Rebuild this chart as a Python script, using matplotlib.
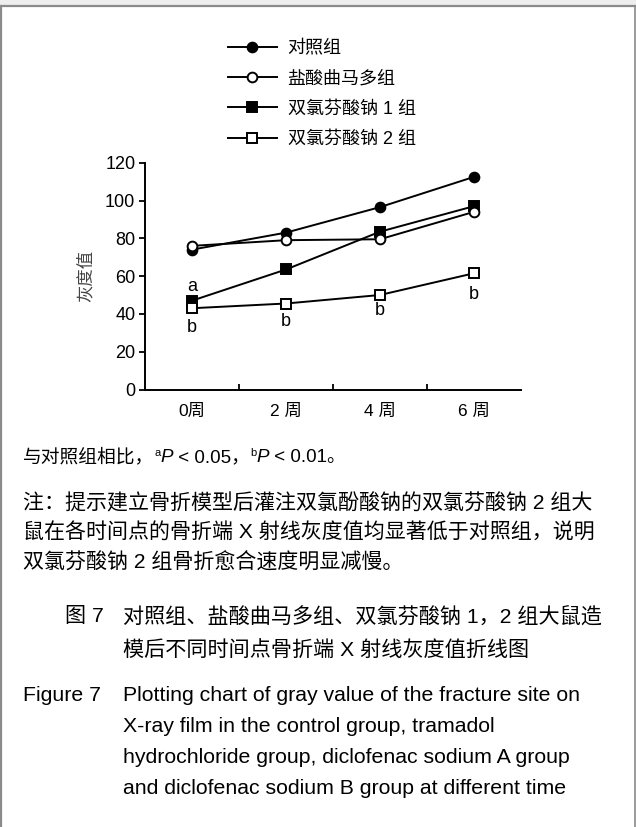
import matplotlib
matplotlib.use('Agg')
import matplotlib.pyplot as plt
from matplotlib.lines import Line2D
from matplotlib.patches import Rectangle

W, H = 636, 827

weeks = ['0周', '2 周', '4 周', '6 周']
control = [74, 83, 96.5, 112.5]
tramadol = [76, 79, 79.5, 94]
diclofenac_1 = [47, 63.5, 83.5, 97]
diclofenac_2 = [43, 45.5, 50, 61.5]
group_names = ['对照组', '盐酸曲马多组', '双氯芬酸钠 1 组', '双氯芬酸钠 2 组']
y_ticks = [0, 20, 40, 60, 80, 100, 120]

# significance letters: (week index, y, letter)
sig_x = [0, 0, 1, 2, 3]
sig_y = [54.5, 33, 36, 42, 50.5]
sig_letters = ['a', 'b', 'b', 'b', 'b']

note_lines = [
    '注：提示建立骨折模型后灌注双氯酚酸钠的双氯芬酸钠 2 组大',
    '鼠在各时间点的骨折端 X 射线灰度值均显著低于对照组，说明',
    '双氯芬酸钠 2 组骨折愈合速度明显减慢。',
]
caption_cn = [
    '对照组、盐酸曲马多组、双氯芬酸钠 1，2 组大鼠造',
    '模后不同时间点骨折端 X 射线灰度值折线图',
]
caption_en = [
    'Plotting chart of gray value of the fracture site on',
    'X-ray film in the control group, tramadol',
    'hydrochloride group, diclofenac sodium A group',
    'and diclofenac sodium B group at different time',
]

plt.rcParams['font.family'] = ['Liberation Sans', 'Noto Sans CJK SC']


def fx(x):
    return x / W


def fy(y):
    return 1 - y / H


fig = plt.figure(figsize=(W / 100, H / 100), dpi=100)
ax = fig.add_axes([fx(145), fy(389.5), (521 - 145) / W, (389.5 - 162.7) / H])

series = [control, tramadol, diclofenac_1, diclofenac_2]
markers = ['o', 'o', 's', 's']
faces = ['black', 'white', 'black', 'white']
handles = []
for vals, name, mk, fc in zip(series, group_names, markers, faces):
    ms = 7 if mk == 'o' else 6.5
    z = 3 if fc == 'white' else 2
    h, = ax.plot(range(len(weeks)), vals, color='black', lw=1.4, marker=mk,
                 ms=ms, mfc=fc, mec='black', mew=1.4, label=name,
                 clip_on=False, zorder=z)
    handles.append(h)

for x, y, s in zip(sig_x, sig_y, sig_letters):
    ax.text(x, y, s, ha='center', va='center', fontsize=13)

ax.set_xlim(-0.5, 3.5)
ax.set_ylim(0, 120)
ax.set_yticks(y_ticks)
ax.set_xticks(range(len(weeks)))
ax.set_xticklabels(weeks)
ax.set_xticks([0.5, 1.5, 2.5], minor=True)
ax.tick_params(axis='x', which='major', length=0, pad=10, labelsize=12.5)
ax.tick_params(axis='x', which='minor', direction='in', length=4, width=1.3)
ax.tick_params(axis='y', direction='out', length=4, width=1.3, pad=3, labelsize=13)
for s in ['top', 'right']:
    ax.spines[s].set_visible(False)
for s in ['left', 'bottom']:
    ax.spines[s].set_linewidth(1.4)
ax.set_ylabel('灰度值', fontsize=12.5, family=['Noto Sans CJK SC'], color='#444444')
ax.yaxis.set_label_coords(-0.135, 0.5)

fig.legend(handles=handles, loc='upper left', bbox_to_anchor=(fx(228), fy(40)),
           frameon=False, fontsize=13, handlelength=2.7, handletextpad=0.6,
           labelspacing=0.74, borderpad=0, borderaxespad=0)

# frame around the page
gray = '#8a8a8a'
fig.add_artist(Rectangle((0, fy(5)), 1, 5 / H, transform=fig.transFigure,
                         color='#eeeeee', lw=0))
fig.add_artist(Line2D([fx(1), fx(635)], [fy(6), fy(6)], color=gray, lw=1.6))
fig.add_artist(Line2D([fx(1), fx(1)], [fy(6), 0], color=gray, lw=1.6))
fig.add_artist(Line2D([fx(635), fx(635)], [fy(6), 0], color=gray, lw=1.2))

# p-value line built from runs
renderer = fig.canvas.get_renderer()
runs = [
    ('与对照组相比，', 13.5, 'normal', 0),
    ('a', 8, 'normal', 6),
    ('P', 13.5, 'italic', 0),
    (' < 0.05，', 13.5, 'normal', 0),
    ('b', 8, 'normal', 6),
    ('P', 13.5, 'italic', 0),
    (' < 0.01。', 13.5, 'normal', 0),
]
x = 23
base = 462
for text, size, style, dy in runs:
    t = fig.text(fx(x), fy(base - dy), text, fontsize=size, style=style,
                 va='baseline', ha='left')
    x += t.get_window_extent(renderer).width

for i, line in enumerate(note_lines):
    fig.text(fx(23), fy(503 + 30 * i), line, fontsize=15.1, va='center')

fig.text(fx(65), fy(617), '图 7', fontsize=15.2, va='center')
for i, line in enumerate(caption_cn):
    fig.text(fx(123), fy(617 + 33 * i), line, fontsize=15.2, va='center')

fig.text(fx(23), fy(701), 'Figure 7', fontsize=15.3, va='baseline')
for i, line in enumerate(caption_en):
    fig.text(fx(123), fy(701 + 31 * i), line, fontsize=15.3, va='baseline')

fig.savefig('out.png', dpi=100)
